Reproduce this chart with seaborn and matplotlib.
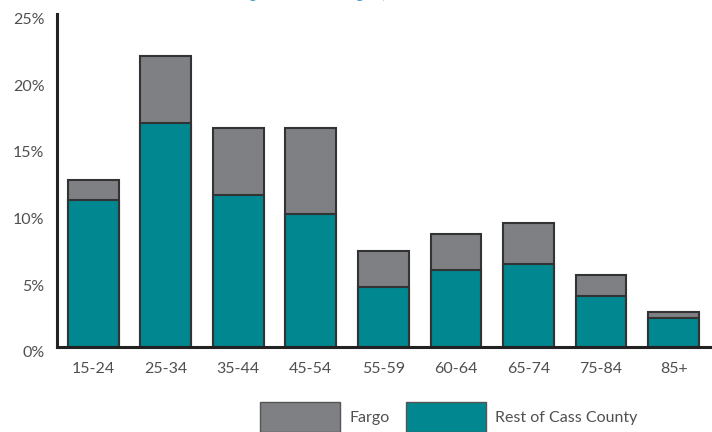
import matplotlib
matplotlib.use("Agg")
import matplotlib.pyplot as plt
from matplotlib.patches import Patch
from matplotlib.ticker import FixedLocator
from matplotlib.transforms import ScaledTranslation
import seaborn as sns
import pandas as pd

# Data
age_groups = ["15-24", "25-34", "35-44", "45-54", "55-59", "60-64", "65-74", "75-84", "85+"]
rest_of_cass = [11.0, 16.8, 11.4, 10.0, 4.5, 5.8, 6.2, 3.8, 2.2]
fargo = [1.5, 5.05, 5.0, 6.4, 2.7, 2.7, 3.1, 1.6, 0.4]
y_ticks = [0, 5, 10, 15, 20, 25]
y_labels = ["0%", "5%", "10%", "15%", "20%", "25%"]

teal = "#00878f"
grey = "#7f8084"
edge = "#333333"
txt = "#505050"

df = pd.DataFrame({"age": age_groups, "rest": rest_of_cass, "fargo": fargo})
df["total"] = df["rest"] + df["fargo"]

sns.set_style("white")
plt.rcParams["font.family"] = ["Lato", "DejaVu Sans"]

fig = plt.figure(figsize=(7.12, 4.32), dpi=100)
ax = fig.add_axes([0.080, 0.197, 0.917, 0.771])

# stacked bars: total in grey first, rest of county in teal on top
sns.barplot(data=df, x="age", y="total", color=grey, width=0.7, saturation=1,
            edgecolor=edge, linewidth=1.5, ax=ax)
sns.barplot(data=df, x="age", y="rest", color=teal, width=0.7, saturation=1,
            edgecolor=edge, linewidth=1.5, ax=ax)

ax.set_xlim(-0.5, 8.5)
ax.set_ylim(0, 25)
ax.set_xlabel("")
ax.set_ylabel("")
ax.set_yticks(y_ticks)
ax.set_yticklabels(y_labels)

sns.despine(ax=ax)
for s in ["left", "bottom"]:
    ax.spines[s].set_linewidth(2.2)
    ax.spines[s].set_color("#222222")

ax.tick_params(axis="y", direction="in", length=11, width=2, color="#222222",
               labelsize=11.5, labelcolor=txt, pad=9)
ax.tick_params(axis="x", length=0, labelsize=11.5, labelcolor=txt, pad=11)
# y labels sit a little below their ticks in the reference
for t in ax.yaxis.get_major_ticks():
    t.label1.set_transform(t.label1.get_transform() + ScaledTranslation(0, -3.5 / 72, fig.dpi_scale_trans))

# small upward ticks at the category boundaries
ax.xaxis.set_minor_locator(FixedLocator([i + 0.5 for i in range(len(age_groups))]))
ax.tick_params(axis="x", which="minor", direction="in", length=4.5, width=2, color="#222222")

# title mostly cut off at the top edge
fig.text(0.222, 1.0 + 1 / 432, "Residents Living in the Metro Region, 2010", color="#3f97c7",
         fontsize=10, ha="left", va="baseline")

handles = [Patch(facecolor=grey, edgecolor="#555555", label="Fargo"),
           Patch(facecolor=teal, edgecolor="#555555", label="Rest of Cass County")]
fig.legend(handles=handles, loc="center left", bbox_to_anchor=(0.345, 0.035), ncol=2,
           frameon=False, fontsize=11.5, handlelength=5.0, handleheight=2.5,
           handletextpad=0.6, columnspacing=1.0, labelcolor=txt)

fig.savefig("out.png", dpi=100)
